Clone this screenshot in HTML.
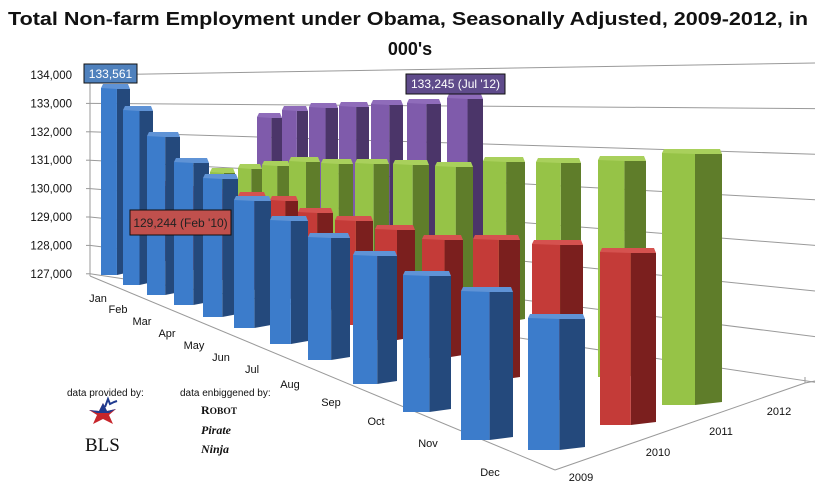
<!DOCTYPE html>
<html><head><meta charset="utf-8"><style>
html,body{margin:0;padding:0;background:#fff;}
svg{display:block;font-family:"Liberation Sans",sans-serif;}
</style></head><body>
<svg id="s" width="837" height="498" viewBox="0 0 837 498" xmlns="http://www.w3.org/2000/svg">
<text x="408" y="25" text-anchor="middle" font-size="18" font-weight="bold" fill="#111" textLength="800" lengthAdjust="spacingAndGlyphs">Total Non-farm Employment under Obama, Seasonally Adjusted, 2009-2012, in</text>
<text x="410" y="55" text-anchor="middle" font-size="18" font-weight="bold" fill="#111">000's</text>
<g id="grid" stroke="#9a9a9a" stroke-width="1" fill="none"></g>
<g id="ylab" font-size="11.5" fill="#111" text-anchor="end"></g>
<g id="bars"></g>
<g font-size="11" fill="#111">
<text x="98" y="302" text-anchor="middle">Jan</text>
<text x="118" y="313" text-anchor="middle">Feb</text>
<text x="142" y="325" text-anchor="middle">Mar</text>
<text x="167" y="337" text-anchor="middle">Apr</text>
<text x="194" y="349" text-anchor="middle">May</text>
<text x="221" y="361" text-anchor="middle">Jun</text>
<text x="252" y="373" text-anchor="middle">Jul</text>
<text x="290" y="388" text-anchor="middle">Aug</text>
<text x="331" y="406" text-anchor="middle">Sep</text>
<text x="376" y="425" text-anchor="middle">Oct</text>
<text x="428" y="447" text-anchor="middle">Nov</text>
<text x="490" y="476" text-anchor="middle">Dec</text>
<text x="581" y="481" text-anchor="middle">2009</text>
<text x="658" y="456" text-anchor="middle">2010</text>
<text x="721" y="435" text-anchor="middle">2011</text>
<text x="779" y="415" text-anchor="middle">2012</text>
</g>
<rect x="84" y="64" width="53" height="19" fill="#4f81bd" stroke="#111" stroke-width="1"/>
<text x="110.5" y="78" text-anchor="middle" font-size="12" fill="#fff">133,561</text>
<rect x="406" y="74" width="99" height="20" fill="#5f4b8b" stroke="#111" stroke-width="1"/>
<text x="455.5" y="88" text-anchor="middle" font-size="12" fill="#fff">133,245 (Jul '12)</text>
<rect x="130" y="210" width="101" height="25" fill="#c0504d" stroke="#111" stroke-width="1"/>
<text x="180.5" y="227" text-anchor="middle" font-size="12" fill="#222">129,244 (Feb '10)</text>
<g font-size="10" fill="#111">
<text x="67" y="396">data provided  by:</text>
<text x="180" y="396">data enbiggened by:</text>
</g>
<path d="M103 403 L107 411 L116 409 L109 415 L113 424 L103 419 L93 424 L97 415 L89 410 L99 411 Z" fill="#c7252b"/>
<path d="M103 403 L107 411 L116 409 L109 413 L97 413 L89 410 L99 411 Z" fill="#1f3a8f"/>
<path d="M105 407 L108 399 L110 404 L114 402 L117 401" stroke="#1f3a8f" stroke-width="2" fill="none"/>
<text x="85" y="451" font-family="Liberation Serif,serif" font-size="19" fill="#111">BLS</text>
<text x="201" y="414" font-family="Liberation Serif,serif" font-size="12" font-weight="bold" fill="#111">R<tspan font-size="9.5">OBOT</tspan></text>
<text x="201" y="434" font-family="Liberation Serif,serif" font-size="12" font-weight="bold" font-style="italic" fill="#111">Pirate</text>
<text x="201" y="453" font-family="Liberation Serif,serif" font-size="12" font-weight="bold" font-style="italic" fill="#111">Ninja</text>
</svg>
<script>
var NS="http://www.w3.org/2000/svg";
function el(p,t,a){var e=document.createElementNS(NS,t);for(var k in a)e.setAttribute(k,a[k]);p.appendChild(e);return e;}
var g=document.getElementById("grid"),yl=document.getElementById("ylab"),b=document.getElementById("bars");
var labs=["134,000","133,000","132,000","131,000","130,000","129,000","128,000","127,000"];
for(var k=0;k<8;k++){
 var yL=75+28.4*k,yR=63+45.6*k;
 el(g,"line",{x1:90,y1:yL,x2:815,y2:yR});
 el(g,"line",{x1:86,y1:yL,x2:90,y2:yL});
 var t=el(yl,"text",{x:72,y:yL+4});t.textContent=labs[k];
}
el(g,"line",{x1:90,y1:72,x2:90,y2:276});
el(g,"line",{x1:90,y1:276,x2:555,y2:470});
el(g,"line",{x1:555,y1:470,x2:805,y2:383});
el(g,"line",{x1:805,y1:383,x2:805,y2:377});
el(g,"line",{x1:815,y1:381,x2:805,y2:383});
var C={b:["#3c7ccb","#24497c","#5f93d6"],r:["#c43b38","#7b1f1e","#d5524f"],g:["#96c347","#5f7d2a","#a9d05c"],p:["#7f5bab","#4b3569","#8f6cba"]};
function bar(x0,x2,top,bot,c,fr){
 var xm=x0+(x2-x0)*(fr||0.57);
 var cc=C[c];
 el(b,"polygon",{points:[xm,top,x2,top+1,x2,bot-3,xm,bot].join(","),fill:cc[1]});
 el(b,"rect",{x:x0,y:top,width:xm-x0,height:bot-top,fill:cc[0]});
 el(b,"polygon",{points:[x0+2,top-4,x2-2,top-4,x2,top+1,xm,top+1,x0,top].join(","),fill:cc[2]});
}
var P=[[257,282,117],[282,308,110],[309,338,107],[339,369,106],[371,403,104],[407,441,103],[447,483,98]];
P.forEach(function(a,i){bar(a[0],a[1],a[2],230+i*8,"p");});
var G=[[210,235,172],[238,262,168],[262,290,165],[289,320,161],[321,353,163],[355,389,163],[393,429,164],[435,473,166],[483,525,161],[536,581,162],[598,646,160],[662,722,153]];
G.forEach(function(a,i){bar(a[0],a[1],a[2],[230,238,246,255,265,276,290,305,322,345,377,405][i],"g",0.55);});
var R=[[150,172,185],[180,205,190],[208,235,193],[238,266,196],[270,298,200],[298,333,212],[335,373,220],[375,415,229],[422,463,239],[473,520,239],[532,583,244],[600,656,252]];
R.forEach(function(a,i){bar(a[0],a[1],a[2],[262,270,280,290,300,312,325,340,358,380,400,425][i],"r",0.55);});
var B=[[101,130,88,275],[123,153,110,285],[147,180,136,295],[174,209,162,305],[203,238,178,317],[234,271,200,328],[270,308,220,344],[308,350,237,360],[353,397,255,384],[403,451,275,412],[461,513,291,440],[528,585,318,450]];
B.forEach(function(a){bar(a[0],a[1],a[2],a[3],"b",0.55);});
</script>
</body></html>
